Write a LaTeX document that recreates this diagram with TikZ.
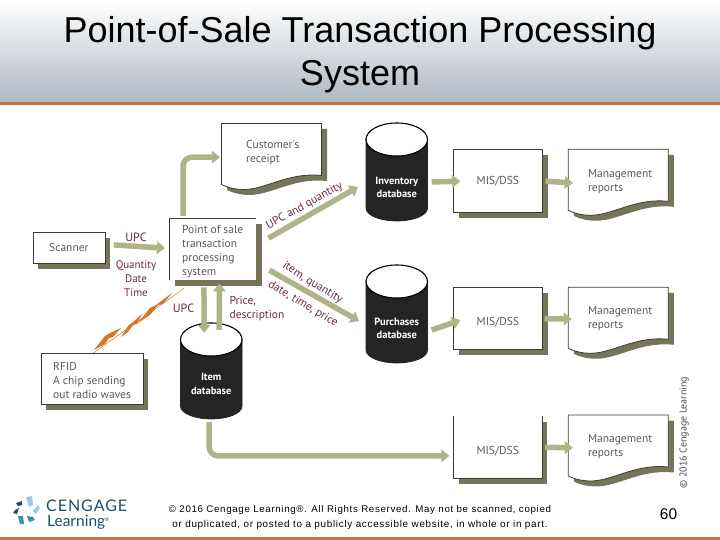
\documentclass[tikz,border=0pt]{standalone}
\usepackage{fontspec}
\setmainfont{Liberation Sans}
\newfontfamily\din{PT Sans}
\newfontfamily\footf[LetterSpace=7]{Liberation Sans}
\newfontfamily\logof[LetterSpace=6]{Lato}
\newfontfamily\logog{Lato}
\usetikzlibrary{arrows.meta,shadows,calc}
\definecolor{shcol}{HTML}{76745A}
\definecolor{arrcol}{HTML}{B0B288}
\definecolor{edgecol}{HTML}{3C3C30}
\definecolor{txtcol}{HTML}{5A5A5A}
\definecolor{labcol}{HTML}{6E2B3A}
\definecolor{barcol}{HTML}{C96F48}
\definecolor{hdrcol}{HTML}{AEB9C2}
\definecolor{hdrmid}{HTML}{DDDFE1}
\definecolor{dbcol}{HTML}{242424}
\definecolor{logod}{HTML}{1F4E6B}
\definecolor{logot}{HTML}{3F8FB0}
\definecolor{logol}{HTML}{9CCBE0}
\definecolor{boltcol}{HTML}{D9752B}
\newcommand{\bodyfont}{\din\fontsize{11.5}{14}\selectfont}
\tikzset{
  dshadow/.style={drop shadow={opacity=1,fill=shcol,shadow xshift=5.5pt,shadow yshift=-5.5pt}},
  sbox/.style={draw=edgecol,line width=.8pt,fill=white,dshadow,anchor=north west,inner sep=0pt,font=\bodyfont,text=txtcol},
  openbox/.style={fill=white,dshadow,anchor=north west,inner sep=0pt},
  sheet/.style={anchor=north west,minimum height=61pt,inner sep=0pt,align=left,text width=78pt,font=\bodyfont,text=txtcol},
  dblab/.style={minimum width=61.5pt,minimum height=30pt,inner sep=0pt,align=center,text=white,font=\din\bfseries\fontsize{10.5}{13.5}\selectfont},
  plain/.style={inner sep=0pt,align=left,font=\bodyfont,text=txtcol},
  lab/.style={inner sep=0pt,align=center,font=\din\fontsize{11}{14}\selectfont,text=labcol},
  fat/.style={draw=arrcol,line width=5.5pt,-{Triangle[length=8pt,width=12.5pt,fill=arrcol]}},
  foot/.style={inner sep=0pt,text=black},
}
\newcommand{\sheetpath}{(0,0) -- (100,0) -- (100,52) .. controls (72,49) and (52,61) .. (32,65) .. controls (22,67) and (10,66) .. (0,61) -- cycle}
\newcommand{\docsheet}[2]{%
  \begin{scope}[shift={(#1,#2)}]
    \fill[shcol,shift={(5.5,5.5)}] \sheetpath;
    \filldraw[fill=white,draw=edgecol,line width=.8pt] \sheetpath;
  \end{scope}}
\newcommand{\dbshape}[3]{% left x, top y, height
  \begin{scope}[shift={(#1,#2)}]
    \filldraw[fill=dbcol,draw=dbcol,line width=.8pt] (0,16) -- (0,#3-13) .. controls (0,#3-5) and (16,#3) .. (30.75,#3)
      .. controls (46,#3) and (61.5,#3-5) .. (61.5,#3-13) -- (61.5,16) -- cycle;
    \filldraw[fill=white,draw=black,line width=1.1pt] (30.75,16.5) ellipse [x radius=30.75pt,y radius=16.5pt];
  \end{scope}}
\begin{document}
\begin{tikzpicture}[x=1pt,y=-1pt]
\useasboundingbox (0,0) rectangle (720,540);
% header and bottom band
\shade[top color=white,middle color=hdrmid,bottom color=hdrcol] (0,0) rectangle (720,102);
\fill[barcol] (0,102) rectangle (720,105);
\fill[barcol] (0,537) rectangle (720,540);
\node[inner sep=0pt,align=center,font=\fontsize{36}{43}\selectfont] (title) at (360,55) {Point-of-Sale Transaction Processing\\System};
% process boxes
\node[sbox,minimum width=72pt,minimum height=31pt] (scanner) at (32.5,232) {Scanner};
\node[sbox,minimum width=102pt,minimum height=51pt] (rfid) at (40.5,353) {};
\node[plain,anchor=north west] (rfidtxt) at (53,362) {RFID\\A chip sending\\out radio waves};
\node[sbox,minimum width=88.4pt,minimum height=63pt] (mis1) at (453.3,149.3) {MIS/DSS};
\node[sbox,minimum width=88.4pt,minimum height=62pt] (mis2) at (453.3,287.3) {\smash{\raisebox{-6.7pt}{MIS/DSS}}};
\node[openbox,minimum width=88.4pt,minimum height=62.3pt,font=\bodyfont,text=txtcol] (mis3) at (453.3,416) {\smash{\raisebox{-7pt}{MIS/DSS}}};
\draw[edgecol,line width=.8pt] (mis3.north west) -- (mis3.south west) -- (mis3.south east) -- (mis3.north east);
\node[openbox,minimum width=86.5pt,minimum height=62pt] (pos) at (169.5,218) {};
\draw[edgecol,line width=.8pt] (pos.south west) -- (pos.north west) -- (pos.north east);
\node[plain,anchor=north west] (postxt) at (182,225) {Point of sale\\transaction\\processing\\system};
% documents
\docsheet{221.5}{123.5}
\node[sheet,xshift=24.5pt,text width=74pt,yshift=2pt] (receipt) at (221.5,123.5) {Customer's\\receipt};
\docsheet{568.3}{149.3}
\node[sheet,xshift=19.5pt,yshift=-1.5pt] (rep1) at (568.3,149.3) {Management\\reports};
\docsheet{568.3}{287.3}
\node[sheet,xshift=19.5pt,yshift=-1pt] (rep2) at (568.3,287.3) {Management\\reports};
\docsheet{568.3}{415}
\node[sheet,xshift=19.5pt,yshift=-1pt] (rep3) at (568.3,415) {Management\\reports};
% databases
\dbshape{180.5}{323}{96}
\node[dblab] (itemdb) at (211.2,384) {Item\\database};
\dbshape{366}{123}{98}
\node[dblab] (invdb) at (396.8,187.5) {Inventory\\database};
\dbshape{366}{265}{98}
\node[dblab] (purdb) at (396.8,328.5) {Purchases\\database};
% free ends
\coordinate (upcend) at (358,187);
\coordinate (itemend) at (359,321);
% connectors
\draw[fat] ([yshift=3pt]scanner.east) ++(8.5,0) -- ([yshift=1pt,xshift=-4.5pt]pos.west);
\draw[fat,rounded corners=9pt] ([xshift=13.5pt,yshift=2pt]pos.north west) |- ([yshift=-5pt,xshift=-26pt]receipt.west);
\draw[fat] ([xshift=12pt,yshift=11pt]pos.east) -- (upcend);
\draw[fat] ([xshift=13pt,yshift=-21pt]pos.east) -- (itemend);
\draw[fat] ([xshift=-9pt,yshift=-7pt]pos.south) -- ([xshift=-7pt,yshift=36pt]itemdb.north);
\draw[fat] ([xshift=8pt,yshift=39pt]itemdb.north) -- ([xshift=6.5pt,yshift=-3pt]pos.south);
\draw[fat,rounded corners=9pt] ([xshift=-2pt,yshift=-23pt]itemdb.south) |- ([xshift=-4pt,yshift=-8.5pt]mis3.west);
\draw[fat] ([xshift=4pt,yshift=5.5pt]invdb.east) -- ([xshift=7pt]mis1.west);
\draw[fat] ([xshift=3pt]mis1.east) -- ([xshift=-15pt,yshift=-1.5pt]rep1.west);
\draw[fat] ([xshift=4pt,yshift=-1.5pt]purdb.east) -- ([xshift=7pt,yshift=-1.5pt]mis2.west);
\draw[fat] ([xshift=2pt]mis2.east) -- ([xshift=-16pt]rep2.west);
\draw[fat] ([xshift=3pt]mis3.east) -- ([xshift=-15pt,yshift=-1pt]rep3.west);
% radio waves between the RFID chip and the processing system
\draw[boltcol,line width=.5pt] ([xshift=1.5pt]rfid.north) -- ([xshift=-29pt,yshift=-8pt]pos.south);
\fill[boltcol] (94,350) -- (105,336) -- (110,333) -- (121,328) -- (113,337) -- (109,338) -- (105,344) -- cycle;
\fill[boltcol] (121,337) -- (128,326) -- (133,322) -- (142,314) -- (137,324) -- (133,325) -- (128,332) -- cycle;
\fill[boltcol] (138,323) -- (150,308) -- (156,305) -- (172,293) -- (163,304) -- (158,305) -- (150,315) -- cycle;
% labels
\node[lab,font=\din\fontsize{12}{14}\selectfont] (l1) at (136,237) {UPC};
\node[lab] (l2) at (136,279) {Quantity\\Date\\Time};
\node[lab,font=\din\fontsize{12}{14}\selectfont] (l3) at (183.5,308) {UPC};
\node[lab,align=left,font=\din\fontsize{11.5}{13.5}\selectfont,anchor=west] (l4) at (229.5,308.5) {Price,\\description};
\node[lab,font=\din\fontsize{11.5}{14}\selectfont,rotate=29] (l5) at (304.5,206) {UPC and quantity};
\node[lab,font=\din\fontsize{11.5}{14}\selectfont,rotate=-32] (l6) at (312.5,283) {item, quantity};
\node[lab,font=\din\fontsize{11.5}{14}\selectfont,rotate=-31] (l7) at (303,304) {date, time, price};
% copyright and page number
\node[plain,rotate=90,font=\din\fontsize{10}{12}\selectfont,text=txtcol!85!black] (cr) at (684,432.5) {© 2016 Cengage Learning};
\node[inner sep=0pt,font=\fontsize{15.5}{16}\selectfont] (pg) at (668.5,514) {60};
\node[foot,font=\footf\fontsize{9.7}{11}\selectfont] (f1) at (360,510) {© 2016 Cengage Learning®. All Rights Reserved. May not be scanned, copied};
\node[foot,font=\footf\fontsize{9.9}{11}\selectfont] (f2) at (360,525) {or duplicated, or posted to a publicly accessible website, in whole or in part.};
% logo
\node[inner sep=0pt,anchor=west,text=logod,font=\logof\fontsize{16}{18}\selectfont] (lg1) at (46,505.5) {CENGAGE};
\node[inner sep=0pt,anchor=west,text=logod,font=\logog\fontsize{15.5}{16}\selectfont] (lg2) at (47,522) {Learning\textsuperscript{\tiny ®}};
\fill[logol] (26,497) -- (32,496) -- (33,505) -- (29,507) -- cycle;
\fill[logol] (33,511) -- (38,505) -- (40,508) -- (36,514) -- cycle;
\fill[logod] (16,503) -- (22,501) -- (22,505) -- (18,506) -- cycle;
\fill[logod] (13,513) -- (15,510) -- (19,508) -- (17,514) -- cycle;
\fill[logot] (18,516) -- (23,516) -- (24,524) -- (20,524) -- cycle;
\fill[logot] (27,516) -- (33,517) -- (35,520) -- (29,522) -- cycle;
\end{tikzpicture}
\end{document}
